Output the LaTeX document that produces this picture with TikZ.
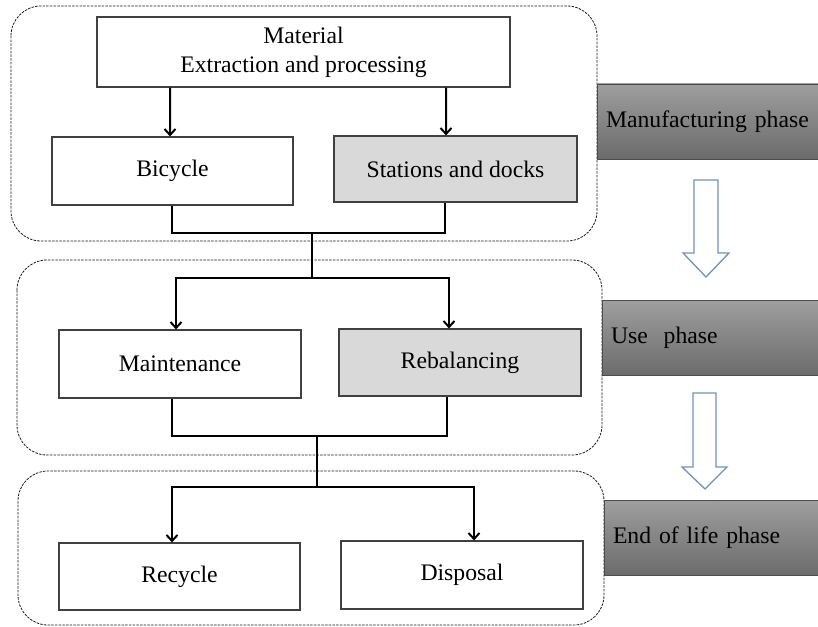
\documentclass[tikz,border=0pt]{standalone}
\usepackage{fontspec}
\setmainfont{Liberation Serif}
\usetikzlibrary{arrows.meta}
\definecolor{arrowblue}{RGB}{112,146,192}

\begin{document}
\begin{tikzpicture}
[ x=1bp, y=-1bp,
font=\fontsize{23.8}{29}\selectfont,
block/.style={rectangle, draw=black!75, line width=1.1bp, fill=white,
 minimum width=242bp, minimum height=68bp, text centered, inner sep=0pt},
grayblock/.style={block, fill=black!15},
phase/.style={rectangle, draw=black!70, line width=0.8bp,
 top color=black!38, bottom color=black!58,
 minimum height=75bp, text width=222bp, inner xsep=9bp, align=left},
group/.style={draw=black!90, line width=0.8bp,
 dash pattern=on 2.5bp off 1.2bp, rounded corners=30bp},
bus/.style={draw=black, line width=2bp},
flow/.style={bus, -{Straight Barb[length=6bp,width=11bp]}},
hollow/.style={draw=arrowblue, line width=1.3bp, fill=white},
]
\useasboundingbox (0,0) rectangle (818,627);

% phase frames
\draw[group] (11,6) rectangle (597,241);
\draw[group] (17,260) rectangle (602,455);
\draw[group] (18,471) rectangle (604,625);

% manufacturing
\node (material) [block, minimum width=413bp, minimum height=70bp, align=center]
 at (303.5,52) {Material\\Extraction and processing};
\node (bicycle) [block, minimum width=241bp] at (172.5,171) {Bicycle};
\node (stations) [grayblock, minimum width=243bp, minimum height=66bp]
 at (455.5,169) {Stations and docks};
% use
\node (maint) [block] at (180,364) {Maintenance};
\node (rebal) [grayblock, minimum height=67bp] at (460,362.5) {Rebalancing};
% end of life
\node (recycle) [block, minimum width=241bp, minimum height=67bp]
 at (179.5,576.5) {Recycle};
\node (disposal) [block] at (462,575) {Disposal};

% phase labels
\node (manuf) [phase] at (717,121.5) {Manufacturing phase};
\node (usephase) [phase] at (722,338) {Use\ \ phase};
\node (eol) [phase] at (724,538) {End of life phase};

\draw[hollow] (694,180) -- (718,180) -- (718,253) -- (729,253) -- (706,277)
 -- (683,253) -- (694,253) -- cycle;
\draw[hollow] (693,393) -- (716,393) -- (716,467) -- (727,467) -- (705,489)
 -- (682,467) -- (693,467) -- cycle;

\coordinate (bus1) at (312,233);
\coordinate (split1) at (312,278);
\coordinate (bus2) at (317,436);
\coordinate (split2) at (317,487);

\draw[flow] ([xshift=-133.5bp]material.south) -- ([xshift=-2.5bp]bicycle.north);
\draw[flow] ([xshift=142.5bp]material.south) -- ([xshift=-9.5bp]stations.north);
\draw[bus] ([xshift=-0.5bp]bicycle.south) |- (bus1) -| ([xshift=-10.5bp]stations.south);
\draw[bus] (bus1) -- (split1);
\draw[flow] (split1) -| ([xshift=-4bp]maint.north);
\draw[flow] (split1) -| ([xshift=-11bp]rebal.north);
\draw[bus] ([xshift=-8bp]maint.south) |- (bus2) -| ([xshift=-13bp]rebal.south);
\draw[bus] (bus2) -- (split2);
\draw[flow] (split2) -| ([xshift=-7.5bp]recycle.north);
\draw[flow] (split2) -| ([xshift=12bp]disposal.north);
\end{tikzpicture}
\end{document}
